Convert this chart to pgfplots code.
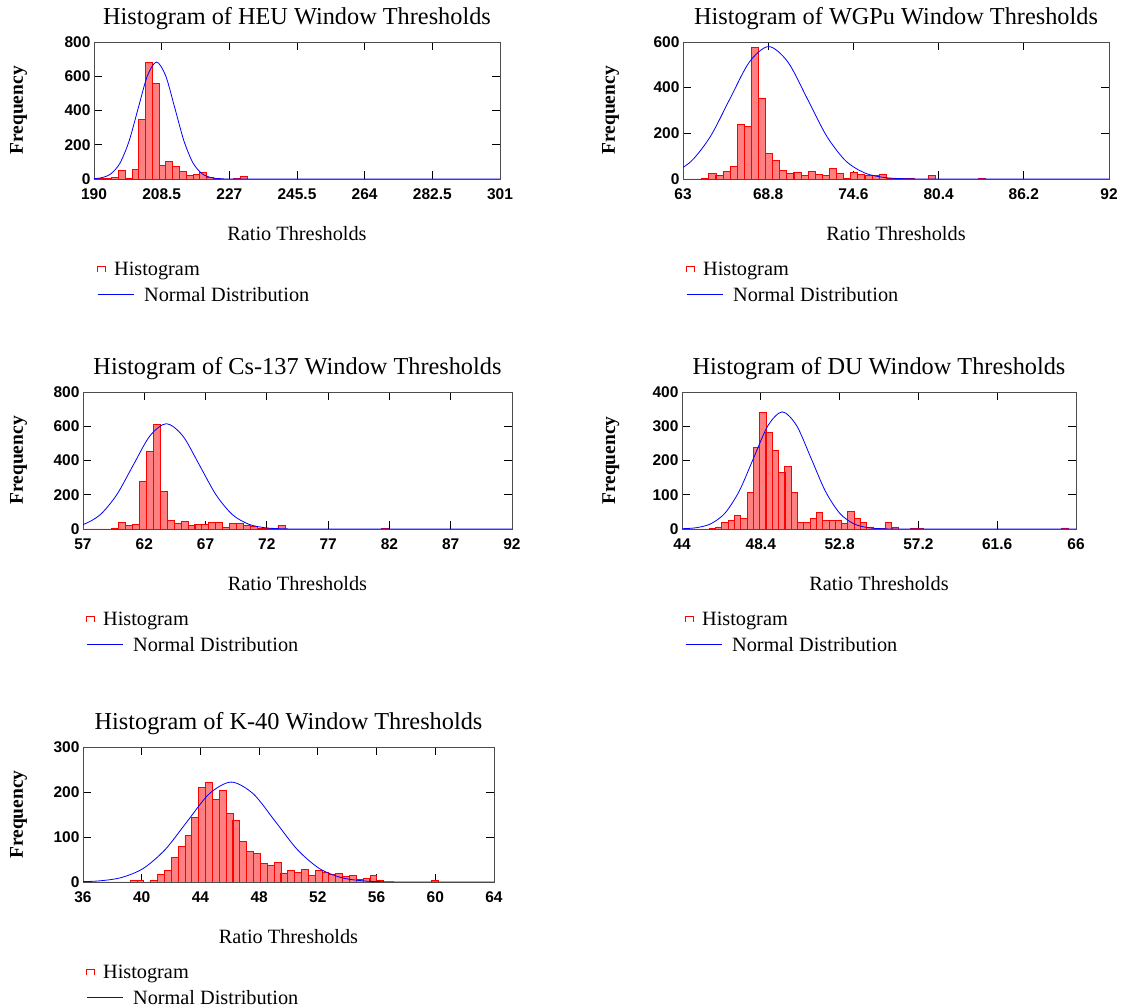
\documentclass[border=0pt]{standalone}
\usepackage{fontspec}
\setmainfont{Liberation Serif}
\setsansfont{Liberation Sans}
\usepackage{pgfplots}
\pgfplotsset{compat=1.18}

\pgfplotsset{
  histax/.style={
    scale only axis, anchor=south west, enlargelimits=false, clip=true,
    tick align=inside, major tick length=8pt,
    axis line style={black!70, line width=0.9pt},
    every tick/.style={black, line width=0.9pt},
    tick label style={font=\sffamily\bfseries\fontsize{15.5}{16}\selectfont},
    xticklabel style={yshift=-6.5pt},
    title style={font=\fontsize{24.3}{28}\selectfont, at={(axis description cs:0.5,1)}, anchor=base, yshift=11pt},
    xlabel style={font=\fontsize{20.3}{24}\selectfont, at={(axis description cs:0.5,0)}, anchor=base, yshift=-61.5pt},
    ylabel style={font=\bfseries\fontsize{19.5}{24}\selectfont, anchor=base},
    legend cell align=left,
    legend style={draw=none, fill=none, at={(axis description cs:0,0)}, anchor=north west,
      xshift=3.3pt, yshift=-83pt, inner sep=0pt, outer sep=0pt, row sep=10pt, column sep=10pt,
      font=\fontsize{20.3}{24}\selectfont, cells={anchor=west}, nodes={inner sep=0pt}},
    xlabel={Ratio Thresholds}, ylabel={Frequency},
  },
  hbar/.style={ybar, bar shift=0pt, bar width=#1, draw=red, fill=red!50, line width=0.8pt,
    legend image code/.code={\path[draw=red, fill=white, line width=0.7pt] (0pt,-3pt) -- (0pt,3pt) -- (8pt,3pt) -- (8pt,-3pt);}},
  ncurve/.style={blue, line width=0.8pt, smooth, mark=none,
    legend image code/.code={\draw[blue, line width=0.8pt] (0pt,0pt) -- (36pt,0pt);}},
}

\begin{document}
\begin{tikzpicture}
\useasboundingbox (0,0) rectangle (1128pt,1008pt);

% ---------------- HEU ----------------
\begin{axis}[histax, at={(94pt,829pt)}, width=406pt, height=137pt,
  xmin=190, xmax=301, ymin=0, ymax=800,
  xtick={190,208.5,227,245.5,264,282.5,301}, xticklabels={190,208.5,227,245.5,264,282.5,301},
  ytick={0,200,400,600,800}, yticklabels={0,200,400,600,800},
  title={Histogram of HEU Window Thresholds},
  ylabel style={at={(axis description cs:-0.175,0.5)}}]
\addplot[hbar=1.85] coordinates {
(190.225,0) (192.075,2) (193.925,3) (195.775,10) (197.625,50) (199.475,6) (201.325,58)
(203.175,349) (205.025,680) (206.875,556) (208.725,81) (210.575,100) (212.425,75)
(214.275,46) (216.125,19) (217.975,27) (219.825,40) (221.675,8) (223.525,4)
(225.375,0) (227.225,0) (229.075,5) (230.925,14)};
\addlegendentry{\hspace*{-30pt}Histogram}
\addplot[ncurve] coordinates {
(187.1,0.23) (189.6,1.5) (192.1,7.6) (194.6,30.0) (197.1,92.4) (199.6,221.8) (202.1,414.2)
(204.6,602.7) (207.1,683) (209.6,602.7) (212.1,414.2) (214.6,221.8) (217.1,92.4)
(219.6,30.0) (222.1,7.6) (224.6,1.5) (227.1,0.23) (240,0) (301,0)};
\addlegendentry{Normal Distribution}
\end{axis}

% ---------------- WGPu ----------------
\begin{axis}[histax, at={(683pt,829pt)}, width=426pt, height=137pt,
  xmin=63, xmax=92, ymin=0, ymax=600,
  xtick={63,68.8,74.6,80.4,86.2,92}, xticklabels={63,68.8,74.6,80.4,86.2,92},
  ytick={0,200,400,600}, yticklabels={0,200,400,600},
  title={Histogram of WGPu Window Thresholds},
  ylabel style={at={(axis description cs:-0.160,0.5)}}]
\addplot[hbar=0.4833] coordinates {
(63.06,0) (63.54,0) (64.03,0) (64.51,4) (65.00,25) (65.48,15) (65.96,34) (66.44,55)
(66.93,237) (67.41,231) (67.89,578) (68.38,355) (68.86,112) (69.34,83) (69.83,38)
(70.31,25) (70.79,31) (71.28,15) (71.76,34) (72.24,19) (72.73,15) (73.21,47) (73.69,25)
(74.18,4) (74.66,29) (75.14,19) (75.63,15) (76.11,15) (76.59,22) (77.07,3) (77.56,2)
(78.04,2) (78.52,2) (79.01,0) (79.49,0) (79.97,17) (83.36,4)};
\addlegendentry{\hspace*{-30pt}Histogram}
\addplot[ncurve] coordinates {
(58.31,0.19) (59.625,1.27) (60.94,6.4) (62.255,25.5) (63.57,78.5) (64.885,188.3)
(66.2,351.8) (67.515,511.9) (68.83,580) (70.145,511.9) (71.46,351.8) (72.775,188.3)
(74.09,78.5) (75.405,25.5) (76.72,6.4) (78.035,1.27) (79.35,0.19) (84,0) (92,0)};
\addlegendentry{Normal Distribution}
\end{axis}

% ---------------- Cs-137 ----------------
\begin{axis}[histax, at={(83pt,479pt)}, width=429pt, height=137pt,
  xmin=57, xmax=92, ymin=0, ymax=800,
  xtick={57,62,67,72,77,82,87,92}, xticklabels={57,62,67,72,77,82,87,92},
  ytick={0,200,400,600,800}, yticklabels={0,200,400,600,800},
  title={Histogram of Cs-137 Window Thresholds},
  ylabel style={at={(axis description cs:-0.140,0.5)}}]
\addplot[hbar=0.5645] coordinates {
(56.82,0) (57.38,0) (57.95,0) (58.51,0) (59.08,0) (59.64,6) (60.21,37) (60.77,19)
(61.33,29) (61.90,280) (62.46,453) (63.03,613) (63.59,220) (64.16,49) (64.72,35)
(65.29,43) (65.85,19) (66.41,29) (66.98,29) (67.54,37) (68.11,37) (68.67,12) (69.24,31)
(69.80,31) (70.37,19) (70.93,16) (71.49,6) (72.06,4) (72.62,4) (73.19,19) (81.66,3)};
\addlegendentry{\hspace*{-30pt}Histogram}
\addplot[ncurve] coordinates {
(53.0,0.21) (54.35,1.35) (55.7,6.8) (57.05,27.0) (58.4,83.2) (59.75,199.7) (61.1,373.0)
(62.45,542.7) (63.8,615) (65.15,542.7) (66.5,373.0) (67.85,199.7) (69.2,83.2)
(70.55,27.0) (71.9,6.8) (73.25,1.35) (74.6,0.21) (80,0) (92,0)};
\addlegendentry{Normal Distribution}
\end{axis}

% ---------------- DU ----------------
\begin{axis}[histax, at={(682pt,479pt)}, width=394pt, height=137pt,
  xmin=44, xmax=66, ymin=0, ymax=400,
  xtick={44,48.4,52.8,57.2,61.6,66}, xticklabels={44,48.4,52.8,57.2,61.6,66},
  ytick={0,100,200,300,400}, yticklabels={0,100,200,300,400},
  title={Histogram of DU Window Thresholds},
  ylabel style={at={(axis description cs:-0.170,0.5)}}]
\addplot[hbar=0.3515] coordinates {
(43.94,0) (44.29,0) (44.64,0) (44.99,0) (45.35,0) (45.70,2) (46.05,6) (46.40,18)
(46.75,24) (47.11,40) (47.46,30) (47.81,107) (48.16,239) (48.51,340) (48.86,282)
(49.22,230) (49.57,165) (49.92,182) (50.27,107) (50.62,18) (50.97,18) (51.33,30)
(51.68,47) (52.03,24) (52.38,24) (52.73,24) (53.08,15) (53.43,50) (53.79,30) (54.14,18)
(54.49,6) (54.84,2) (55.19,2) (55.54,18) (55.90,6) (56.95,2) (57.30,2) (65.38,3)};
\addlegendentry{\hspace*{-30pt}Histogram}
\addplot[ncurve] coordinates {
(43.2,0.11) (44.0,0.75) (44.8,3.8) (45.6,15.0) (46.4,46.3) (47.2,111.0) (48.0,207.4)
(48.8,301.8) (49.6,342) (50.4,301.8) (51.2,207.4) (52.0,111.0) (52.8,46.3) (53.6,15.0)
(54.4,3.8) (55.2,0.75) (56.0,0.11) (60,0) (66,0)};
\addlegendentry{Normal Distribution}
\end{axis}

% ---------------- K-40 ----------------
\begin{axis}[histax, at={(83pt,126pt)}, width=411pt, height=135pt,
  xmin=36, xmax=64, ymin=0, ymax=300,
  xtick={36,40,44,48,52,56,60,64}, xticklabels={36,40,44,48,52,56,60,64},
  ytick={0,100,200,300}, yticklabels={0,100,200,300},
  title={Histogram of K-40 Window Thresholds},
  ylabel style={at={(axis description cs:-0.146,0.5)}}]
\addplot[hbar=0.467] coordinates {
(36.17,0) (36.64,0) (37.11,0) (37.57,0) (38.04,0) (38.51,0) (38.97,0) (39.44,3) (39.91,3)
(40.37,0) (40.84,3) (41.31,16) (41.78,25) (42.24,54) (42.71,79) (43.18,104) (43.64,144)
(44.11,210) (44.58,222) (45.04,184) (45.51,203) (45.98,152) (46.44,136) (46.91,91)
(47.38,67) (47.85,63) (48.31,42) (48.78,37) (49.25,44) (49.71,20) (50.18,26) (50.65,21)
(51.11,28) (51.58,15) (52.05,26) (52.51,21) (52.98,17) (53.45,19) (53.91,13) (54.38,14)
(54.85,5) (55.31,8) (55.78,14) (56.25,3) (59.99,3)};
\addlegendentry{\hspace*{-30pt}Histogram}
\addplot[ncurve] coordinates {
(34.1,0.07) (35.6,0.49) (37.1,2.46) (38.6,9.75) (40.1,30.0) (41.6,72.1) (43.1,134.6)
(44.6,195.9) (46.1,222) (47.6,195.9) (49.1,134.6) (50.6,72.1) (52.1,30.0) (53.6,9.75)
(55.1,2.46) (56.6,0.49) (58.1,0.07) (61,0) (64,0)};
\addlegendentry{Normal Distribution}
\end{axis}
\end{tikzpicture}
\end{document}
